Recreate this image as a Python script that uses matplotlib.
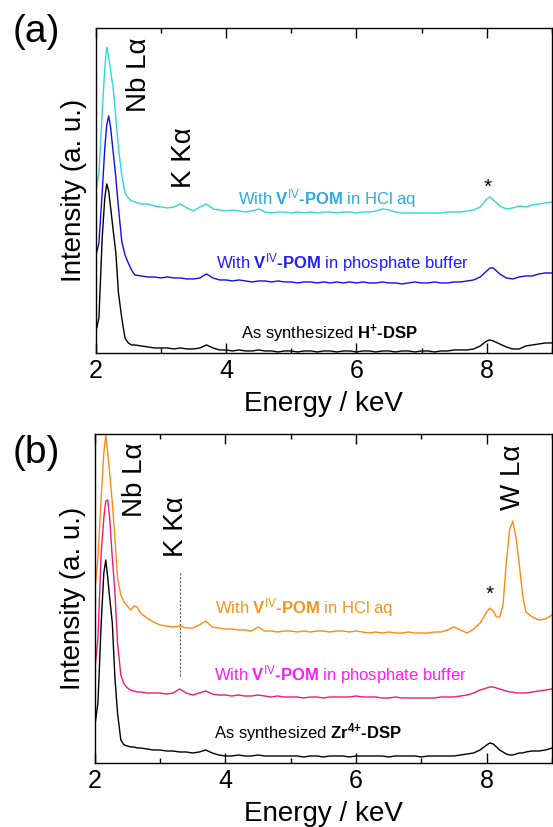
import matplotlib
matplotlib.use('Agg')
import matplotlib.pyplot as plt
from matplotlib.ticker import MultipleLocator

plt.rcParams['font.family'] = ['Liberation Sans', 'DejaVu Sans']
plt.rcParams['mathtext.fontset'] = 'custom'
plt.rcParams['mathtext.rm'] = 'Liberation Sans'
plt.rcParams['mathtext.bf'] = 'Liberation Sans:bold'
plt.rcParams['mathtext.it'] = 'Liberation Sans:italic'

# energy grid (keV) for panel (a)
energy_a = [2.00, 2.05, 2.10, 2.14, 2.17, 2.20, 2.23, 2.27, 2.31, 2.35, 2.40, 2.45, 2.50, 2.55, 2.60,
            2.7, 2.8, 2.9, 3.0, 3.1, 3.2, 3.3, 3.4, 3.5, 3.6, 3.7, 3.8, 3.9, 4.0,
            4.1, 4.2, 4.3, 4.4, 4.5, 4.6, 4.7, 4.8, 4.9, 5.0,
            5.1, 5.2, 5.3, 5.4, 5.5, 5.6, 5.7, 5.8, 5.9, 6.0,
            6.1, 6.2, 6.3, 6.4, 6.5, 6.6, 6.7, 6.8, 6.9, 7.0,
            7.1, 7.2, 7.3, 7.4, 7.5, 7.6, 7.7, 7.8, 7.9, 8.0, 8.05,
            8.1, 8.2, 8.3, 8.4, 8.5, 8.6, 8.7, 8.8, 8.9, 9.0]

# (a) intensities, stacked (a. u.)
hcl_a = [160, 180, 240, 285, 306, 296, 282, 264, 235, 205, 178, 160, 155, 152, 151,
         149, 149, 147, 146, 145, 146, 149, 145, 142, 146, 149, 144, 143, 142,
         143, 142, 141, 142, 144, 141, 140, 141, 141, 140,
         141, 140, 141, 140, 141, 141, 140, 141, 141, 140,
         141, 141, 142, 144, 143, 141, 140, 140, 140, 140,
         140, 140, 140, 141, 141, 141, 142, 143, 146, 154, 156,
         153, 147, 144, 145, 147, 146, 148, 149, 150, 151]
phos_a = [96, 110, 160, 205, 228, 237, 225, 200, 175, 145, 112, 98, 90, 83, 78,
          77, 76, 76, 75, 76, 75, 75, 74, 74, 75, 79, 75, 73, 73,
          72, 73, 72, 71, 72, 72, 71, 72, 71, 71,
          70, 71, 71, 70, 71, 70, 71, 70, 71, 70,
          71, 70, 70, 71, 70, 70, 69, 70, 71, 70,
          70, 71, 70, 70, 71, 71, 72, 73, 76, 82, 85,
          85, 79, 75, 74, 76, 77, 77, 79, 80, 80]
asis_a = [20, 35, 115, 155, 169, 162, 145, 122, 100, 60, 35, 15, 10, 8, 8,
          7, 6, 5, 5, 5, 4, 5, 4, 4, 5, 8, 5, 3, 3,
          2, 3, 2, 2, 3, 2, 2, 1, 2, 2,
          1, 2, 2, 1, 2, 2, 1, 2, 2, 1,
          2, 2, 1, 2, 2, 1, 2, 2, 1, 2,
          2, 1, 2, 2, 3, 3, 3, 4, 7, 12, 13,
          12, 9, 6, 4, 4, 7, 8, 9, 10, 10]

# energy grid (keV) for panel (b)
energy_b = [2.00, 2.05, 2.10, 2.14, 2.17, 2.20, 2.23, 2.27, 2.31, 2.35, 2.40, 2.45, 2.50, 2.55, 2.60,
            2.65, 2.7, 2.8, 2.9, 3.0, 3.1, 3.2, 3.3, 3.4, 3.5, 3.6, 3.7, 3.8, 3.9, 4.0,
            4.1, 4.2, 4.3, 4.4, 4.5, 4.6, 4.7, 4.8, 4.9, 5.0,
            5.1, 5.2, 5.3, 5.4, 5.5, 5.6, 5.7, 5.8, 5.9, 6.0,
            6.1, 6.2, 6.3, 6.4, 6.5, 6.6, 6.7, 6.8, 6.9, 7.0,
            7.1, 7.2, 7.3, 7.4, 7.5, 7.6, 7.7, 7.8, 7.9, 8.0, 8.05,
            8.1, 8.15, 8.2, 8.25, 8.3, 8.35, 8.4, 8.45, 8.5, 8.55, 8.6, 8.7, 8.8, 8.9, 9.0]

hcl_b = [171, 205, 265, 310, 328, 310, 290, 260, 225, 185, 168, 161, 157, 153, 157,
         156, 150, 145, 141, 138, 137, 136, 137, 135, 135, 138, 142, 136, 135, 134,
         134, 133, 133, 132, 136, 132, 132, 131, 132, 132,
         131, 132, 131, 132, 132, 131, 132, 132, 131, 132,
         131, 130, 131, 130, 131, 130, 130, 131, 130, 130,
         130, 131, 131, 133, 136, 133, 130, 134, 140, 151, 155,
         152, 146, 146, 158, 200, 233, 242, 225, 198, 168, 151, 146, 143, 144, 148]
phos_b = [91, 125, 210, 245, 262, 263, 245, 205, 171, 120, 88, 79, 75, 73, 72,
          71, 71, 70, 70, 70, 69, 70, 74, 70, 68, 70, 72, 69, 68, 68,
          67, 68, 67, 67, 68, 67, 66, 67, 66, 66,
          66, 65, 66, 66, 65, 66, 66, 66, 66, 67,
          66, 66, 66, 65, 65, 66, 65, 65, 65, 65,
          65, 65, 66, 66, 66, 67, 68, 70, 73, 75, 76,
          76, 75, 74, 73, 72, 71, 71, 70, 70, 70, 70, 71, 72, 73, 74]
asis_b = [36, 60, 140, 190, 203, 185, 165, 140, 85, 50, 23, 18, 17, 16, 16,
          15, 15, 14, 13, 13, 12, 12, 11, 11, 10, 11, 13, 10, 8, 7,
          7, 8, 7, 7, 8, 7, 7, 7, 7, 7,
          7, 6, 7, 7, 6, 7, 7, 7, 6, 7,
          7, 7, 7, 7, 6, 7, 7, 7, 7, 6,
          7, 7, 7, 7, 7, 8, 9, 10, 13, 18, 20,
          19, 16, 13, 11, 9, 8, 8, 9, 10, 10, 11, 12, 12, 13, 15]

# peak labels: (text, energy, bottom of text in a. u.)
peaks_a = [('Nb L\u03b1', 2.67, 241), ('K K\u03b1', 3.35, 165)]
peaks_b = [('Nb L\u03b1', 2.61, 246), ('K K\u03b1', 3.24, 206), ('W L\u03b1', 8.40, 253)]
star_a = (8.02, 160)
star_b = (8.05, 163)
kka_line = (3.31, 87, 191)

hy = '\u2010'
lab_hcl = r'With $\mathbf{V}^{\mathrm{IV}}\mathbf{' + hy + r'POM}$ in HCl aq'
lab_phos = r'With $\mathbf{V}^{\mathrm{IV}}\mathbf{' + hy + r'POM}$ in phosphate buffer'
lab_h = r'As synthesized $\mathbf{H}^{\mathbf{{+}}}\mathbf{' + hy + r'DSP}$'
lab_zr = r'As synthesized $\mathbf{Zr}^{\mathbf{4{+}}}\mathbf{' + hy + r'DSP}$'

fig = plt.figure(figsize=(5.53, 8.27), dpi=100)
ax_a = fig.add_axes([0.173, 0.5732, 0.825, 0.393])
ax_b = fig.add_axes([0.1712, 0.0774, 0.827, 0.3978])

# panel (a)
ax_a.plot(energy_a, hcl_a, color='#2ed8d8', lw=1.0)
ax_a.plot(energy_a, phos_a, color='#1010e6', lw=1.0)
ax_a.plot(energy_a, asis_a, color='black', lw=1.0)
ax_a.text(5.55, 149, lab_hcl, color='#29abe2', fontsize=12, ha='center', va='baseline')
ax_a.text(5.78, 85, lab_phos, color='#1f1fff', fontsize=12, ha='center', va='baseline')
ax_a.text(5.58, 14, lab_h, color='black', fontsize=12, ha='center', va='baseline')
ax_a.text(star_a[0], star_a[1], '*', fontsize=15, ha='center', va='baseline')
ax_a.set_ylim(0, 325)

# panel (b)
ax_b.plot(energy_b, hcl_b, color='#ff8a10', lw=1.0)
ax_b.plot(energy_b, phos_b, color='#ec1a78', lw=1.0)
ax_b.plot(energy_b, asis_b, color='black', lw=1.0)
ax_b.vlines(kka_line[0], kka_line[1], kka_line[2], colors='#555555', linestyles=(0, (2, 1.5)), lw=0.8)
ax_b.text(5.20, 150, lab_hcl, color='#f7941d', fontsize=12, ha='center', va='baseline')
ax_b.text(5.76, 83, lab_phos, color='#ff1aff', fontsize=12, ha='center', va='baseline')
ax_b.text(5.26, 25, lab_zr, color='black', fontsize=12, ha='center', va='baseline')
ax_b.text(star_b[0], star_b[1], '*', fontsize=15, ha='center', va='baseline')
ax_b.set_ylim(0, 329)

for ax, peaks in ((ax_a, peaks_a), (ax_b, peaks_b)):
    for txt, e, yb in peaks:
        ax.text(e, yb, txt, rotation=90, fontsize=20, ha='center', va='bottom')
    ax.set_xlim(2, 9)
    ax.set_xticks([2, 4, 6, 8])
    ax.xaxis.set_minor_locator(MultipleLocator(1))
    ax.set_yticks([])
    ax.tick_params(axis='x', which='both', direction='in', top=True, width=1, labelsize=18, pad=4)
    ax.tick_params(axis='x', which='major', length=7)
    ax.tick_params(axis='x', which='minor', length=3.5)
    for s in ax.spines.values():
        s.set_linewidth(1.0)
    ax.set_xlabel('Energy / keV', fontsize=20, labelpad=6)
    ax.set_ylabel('Intensity (a. u.)', fontsize=20, labelpad=6)

fig.text(0.066, 0.961, '(a)', fontsize=28, ha='center', va='center')
fig.text(0.065, 0.452, '(b)', fontsize=28, ha='center', va='center')

fig.savefig('out.png', dpi=100)
